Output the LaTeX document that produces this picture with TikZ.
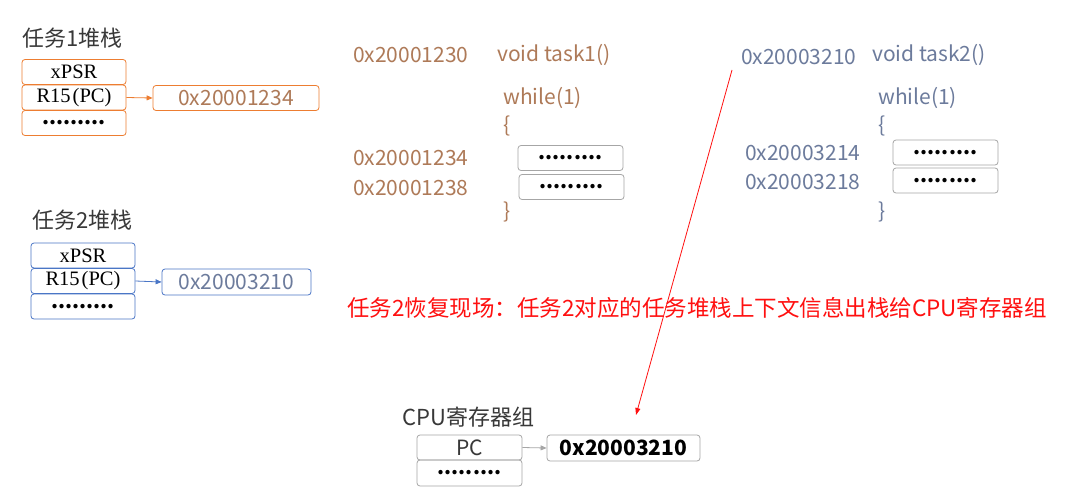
\documentclass[tikz,border=0pt]{standalone}
\usepackage{fontspec}
\setmainfont{Noto Sans CJK SC}
\newfontfamily\serifx{Liberation Serif}
\usetikzlibrary{arrows.meta}
\definecolor{orangeb}{HTML}{ED7D31}
\definecolor{brownt}{HTML}{AE7A58}
\definecolor{blueb}{HTML}{4A76C6}
\definecolor{bluet}{HTML}{6C7B9C}
\definecolor{grayb}{HTML}{A6A6A6}
\definecolor{titlec}{HTML}{383838}
\definecolor{redc}{HTML}{FF1010}
\newcommand{\ninedots}[1]{\makebox[#1]{\normalfont\fontsize{20}{20}\selectfont\bfseries .\hfill.\hfill.\hfill.\hfill.\hfill.\hfill.\hfill.\hfill.}}
\begin{document}
\begin{tikzpicture}[x=1pt,y=-1pt,
  box/.style={draw, rounded corners=3pt, inner sep=0pt, line width=0.8pt},
  lbl/.style={inner sep=0pt},
  title/.style={lbl, text=titlec, font=\fontsize{22}{26}\selectfont},
  hex/.style={lbl, font=\fontsize{21}{25}\selectfont},
  sfx/.style={font=\serifx\fontsize{20.5}{23}\selectfont, text=black},
  tip/.style={-{Triangle[length=6pt,width=5pt]}, line width=0.8pt}
]
\useasboundingbox[fill=white] (0,0) rectangle (1080,498);

% ---------- Task 1 stack ----------
\node[title, anchor=west] (t1) at (22,38) {任务1堆栈};
\node[box, draw=orangeb, minimum width=104pt, minimum height=25pt, sfx] (s1a) at (74,72) {xPSR};
\node[box, draw=orangeb, minimum width=104pt, minimum height=25pt, sfx] (s1b) at (74,97.5) {R15\kern2pt(PC)};
\node[box, draw=orangeb, minimum width=104pt, minimum height=25pt, sfx] (s1c) at (74,123) {\ninedots{64pt}};
\node[box, draw=orangeb, minimum width=166pt, minimum height=25pt, hex, text=brownt] (v1) at (236,98) {0x20001234};
\draw[tip, orangeb] (s1b.east) -- (v1.west);

% ---------- Task 2 stack ----------
\node[title, anchor=west] (t2) at (32,220) {任务2堆栈};
\node[box, draw=blueb, minimum width=104pt, minimum height=25pt, sfx] (s2a) at (83,255.5) {xPSR};
\node[box, draw=blueb, minimum width=104pt, minimum height=25pt, sfx] (s2b) at (83,281) {R15\kern2pt(PC)};
\node[box, draw=blueb, minimum width=104pt, minimum height=25pt, sfx] (s2c) at (83,306.5) {\ninedots{64pt}};
\node[box, draw=blueb, minimum width=149pt, minimum height=26pt, hex, text=bluet] (v2) at (236.5,282) {0x20003210};
\draw[tip, blueb] (s2b.east) -- (v2.west);

% ---------- Task 1 code ----------
\begin{scope}[every node/.style={hex, text=brownt, anchor=west}]
\node (a10) at (353,55) {0x20001230};
\node (f1) at (497,55) {void task1()};
\node (w1) at (503,98) {while(1)};
\node (o1) at (503,126) {\{};
\node (a14) at (353,158) {0x20001234};
\node (a18) at (353,188) {0x20001238};
\node (c1) at (503,212) {\}};
\end{scope}
\node[box, draw=grayb, minimum width=105pt, minimum height=25pt] (b11) at (570.5,158) {\ninedots{64pt}};
\node[box, draw=grayb, minimum width=105pt, minimum height=25pt] (b12) at (571.5,187) {\ninedots{64pt}};

% ---------- Task 2 code ----------
\begin{scope}[every node/.style={hex, text=bluet, anchor=west}]
\node (a20) at (741,57) {0x20003210};
\node (f2) at (872,55) {void task2()};
\node (w2) at (878,98) {while(1)};
\node (o2) at (878,126) {\{};
\node (a24) at (745,153) {0x20003214};
\node (a28) at (745,182) {0x20003218};
\node (c2) at (878,212) {\}};
\end{scope}
\node[box, draw=grayb, minimum width=105pt, minimum height=25pt] (b21) at (945.5,152.5) {\ninedots{64pt}};
\node[box, draw=grayb, minimum width=105pt, minimum height=25pt] (b22) at (945.5,180.5) {\ninedots{64pt}};

% ---------- Red note ----------
\node[lbl, anchor=west, text=redc, font=\fontsize{22.5}{26}\selectfont] (note) at (347,308) {任务2恢复现场：任务2对应的任务堆栈上下文信息出栈给CPU寄存器组};

% ---------- CPU registers ----------
\node[title, anchor=west] (cpu) at (402,417) {CPU寄存器组};
\node[box, draw=grayb, minimum width=105pt, minimum height=25pt, hex, text=titlec] (pc) at (469.5,447.5) {PC};
\node[box, draw=grayb, minimum width=105pt, minimum height=26pt] (pcd) at (469.5,473) {\ninedots{64pt}};
\node[box, draw=grayb, minimum width=153pt, minimum height=26pt, hex, text=black, font=\fontsize{21}{25}\selectfont\bfseries] (pcv) at (623.5,448) {0x20003210};
\draw[tip, grayb] (pc.east) -- (pcv.west);

% ---------- Red arrow ----------
\coordinate (rs) at (732,70);
\coordinate (re) at (636,415);
\draw[redc, line width=0.8pt, -{Triangle[length=7pt,width=5pt]}] (rs) -- (re);
\end{tikzpicture}
\end{document}
